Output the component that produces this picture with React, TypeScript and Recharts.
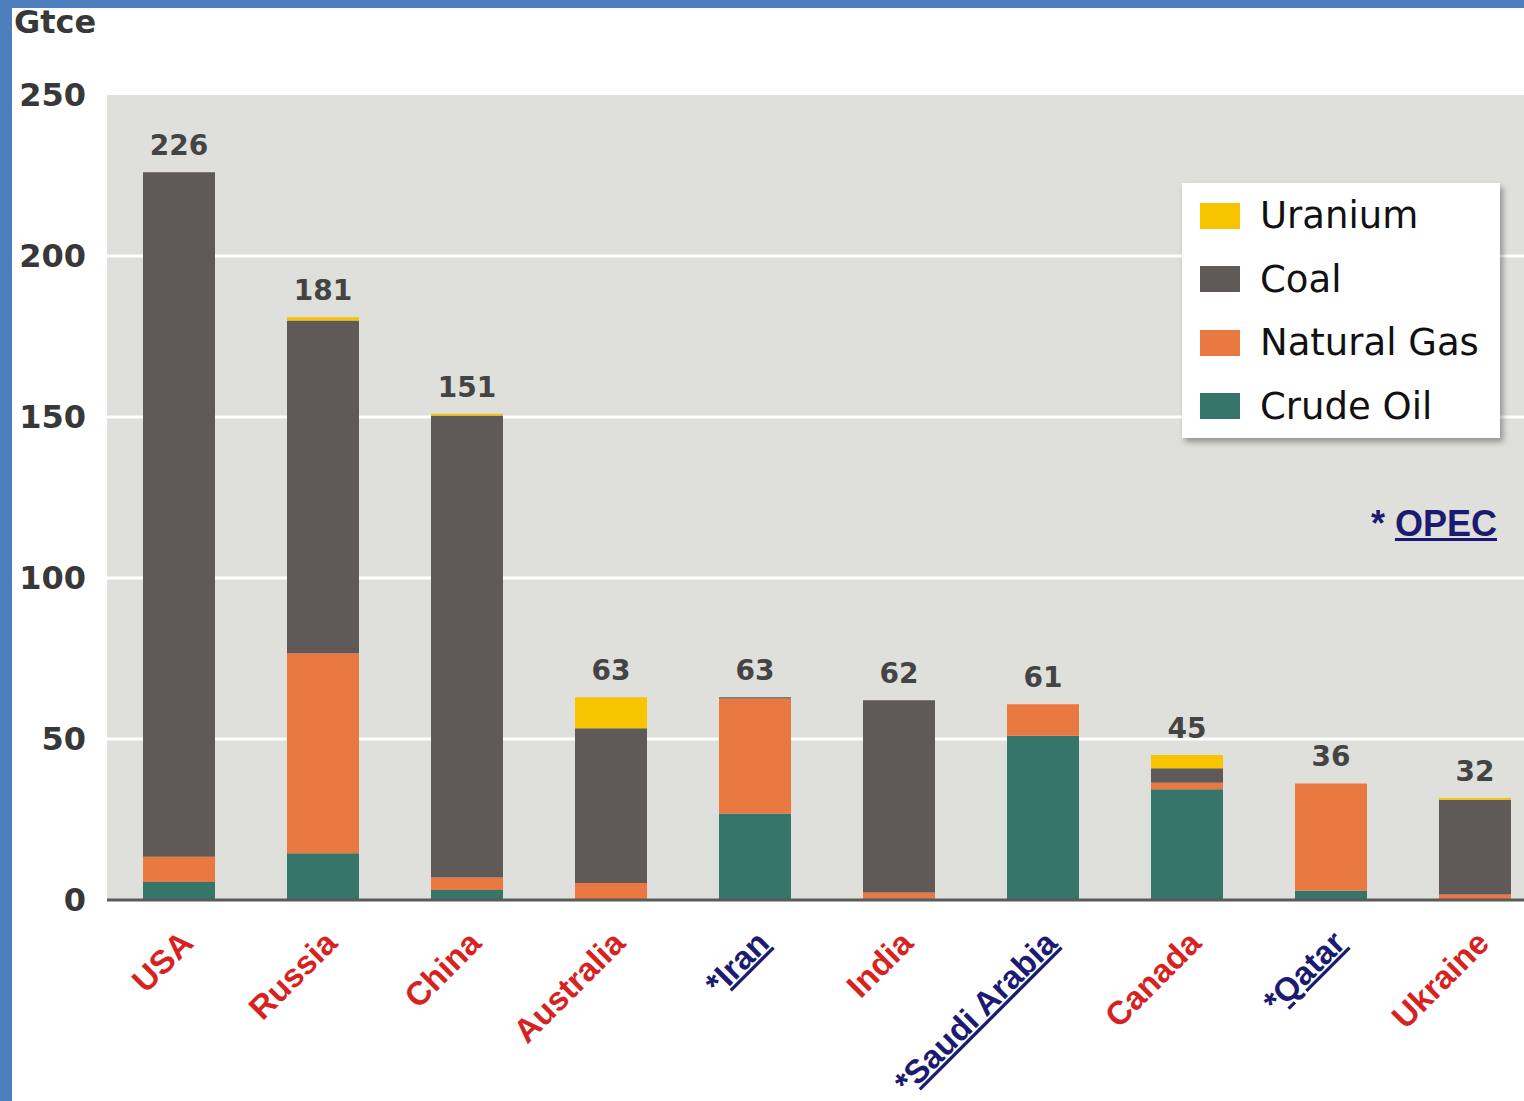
import React from "react";
import { BarChart, Bar, XAxis, YAxis, CartesianGrid, Legend, LabelList } from "recharts";

const countries = ["USA", "Russia", "China", "Australia", "*Iran", "India", "*Saudi Arabia", "Canada", "*Qatar", "Ukraine"];
const opec = [false, false, false, false, true, false, true, false, true, false];
const crudeOil = [5.6, 14.5, 3.1, 0.3, 26.9, 0.5, 51.0, 34.4, 2.9, 0.3];
const naturalGas = [7.8, 62.1, 3.9, 5.0, 35.7, 1.8, 9.8, 2.0, 33.3, 1.4];
const coal = [212.6, 103.4, 143.5, 48.0, 0.4, 59.7, 0, 4.5, 0, 29.4];
const uranium = [0, 1.0, 0.5, 9.7, 0, 0, 0, 4.1, 0, 0.6];
const totals = [226, 181, 151, 63, 63, 62, 61, 45, 36, 32];
const yTicks = [0, 50, 100, 150, 200, 250];

const series = [
  { key: "crudeOil", name: "Crude Oil", color: "#35756a", values: crudeOil },
  { key: "naturalGas", name: "Natural Gas", color: "#e97941", values: naturalGas },
  { key: "coal", name: "Coal", color: "#5f5a57", values: coal },
  { key: "uranium", name: "Uranium", color: "#f6c500", values: uranium },
];

// which series is the topmost non-zero segment of each stack
const topSeries = countries.map((_, i) => {
  let top = series[0].key;
  series.forEach((s) => {
    if (s.values[i] > 0) top = s.key;
  });
  return top;
});

const data = countries.map((c, i) => {
  const row: any = {
    country: c,
    crudeOil: crudeOil[i],
    naturalGas: naturalGas[i],
    coal: coal[i],
    uranium: uranium[i],
  };
  series.forEach((s) => {
    row[`label_${s.key}`] = topSeries[i] === s.key ? totals[i] : null;
  });
  return row;
});

const RED = "#d6231f";
const NAVY = "#1b1b72";

const XTick = (props: any) => {
  const { x, y, payload, index } = props;
  const label: string = payload.value;
  const isOpec = opec[index];
  const ax = x + 16;
  const ay = y + 37;
  return (
    <text
      x={ax}
      y={ay}
      textAnchor="end"
      transform={`rotate(-45, ${ax}, ${ay})`}
      fill={isOpec ? NAVY : RED}
      fontFamily="'Liberation Sans', Arial, sans-serif"
      fontWeight="bold"
      fontSize={33}
    >
      {isOpec ? (
        <>
          <tspan>*</tspan>
          <tspan textDecoration="underline">{label.slice(1)}</tspan>
        </>
      ) : (
        label
      )}
    </text>
  );
};

const TotalLabel = (props: any) => {
  const { x, y, width, value } = props;
  if (value === null || value === undefined) return null;
  return (
    <text
      x={x + width / 2}
      y={y - 17}
      textAnchor="middle"
      fill="#444"
      fontFamily="'DejaVu Sans', Verdana, sans-serif"
      fontWeight="bold"
      fontSize={28}
    >
      {value}
    </text>
  );
};

const LegendContent = () => {
  const items = [...series].reverse();
  return (
    <div
      style={{
        width: 318,
        height: 255,
        background: "#fff",
        boxShadow: "3px 4px 6px rgba(0,0,0,0.35)",
        boxSizing: "border-box",
        paddingTop: 1,
      }}
    >
      {items.map((s) => (
        <div key={s.key} style={{ height: 63.5, display: "flex", alignItems: "center" }}>
          <div style={{ width: 40, height: 26, background: s.color, marginLeft: 18, marginRight: 20 }} />
          <span
            style={{
              fontFamily: "'DejaVu Sans', Verdana, sans-serif",
              fontSize: 37,
              color: "#111",
              lineHeight: 1,
            }}
          >
            {s.name}
          </span>
        </div>
      ))}
    </div>
  );
};

export default function App() {
  return (
    <div style={{ position: "relative", width: 1524, height: 1101, overflow: "hidden", background: "#fff" }}>
      <style>{`body{margin:0;overflow:hidden}`}</style>
      <BarChart
        width={1560}
        height={1101}
        data={data}
        margin={{ top: 95, right: 13, bottom: 1, left: 0 }}
        barCategoryGap="25%"
      >
        <CartesianGrid
          vertical={false}
          horizontalValues={[50, 100, 150, 200]}
          fill="#dfdfdc"
          fillOpacity={1}
          stroke="#ffffff"
          strokeWidth={3}
        />
        <XAxis
          dataKey="country"
          interval={0}
          height={200}
          tickLine={false}
          axisLine={{ stroke: "#5a5a5a", strokeWidth: 3 }}
          tick={<XTick />}
        />
        <YAxis
          domain={[0, 250]}
          ticks={yTicks}
          width={107}
          axisLine={false}
          tickLine={false}
          tickSize={0}
          tickMargin={21}
          tick={{
            fill: "#383838",
            fontSize: 32,
            fontWeight: "bold",
            fontFamily: "'DejaVu Sans', Verdana, sans-serif",
          }}
        />
        <Legend
          layout="vertical"
          align="center"
          verticalAlign="middle"
          content={<LegendContent />}
          wrapperStyle={{ left: 1182, top: 183, width: 318, height: 255 }}
        />
        {series.map((s) => (
          <Bar key={s.key} dataKey={s.key} name={s.name} stackId="a" fill={s.color} isAnimationActive={false}>
            <LabelList dataKey={`label_${s.key}`} content={<TotalLabel />} />
          </Bar>
        ))}
      </BarChart>
      <div
        style={{
          position: "absolute",
          left: 14,
          top: 3,
          fontFamily: "'DejaVu Sans', Verdana, sans-serif",
          fontWeight: "bold",
          fontSize: 32,
          color: "#383838",
          lineHeight: 1.2,
        }}
      >
        Gtce
      </div>
      <div
        style={{
          position: "absolute",
          right: 27,
          top: 502,
          fontFamily: "'Liberation Sans', Arial, sans-serif",
          fontWeight: "bold",
          fontSize: 36,
          color: NAVY,
          lineHeight: 1.2,
          whiteSpace: "nowrap",
        }}
      >
        * <span style={{ textDecoration: "underline" }}>OPEC</span>
      </div>
      <div style={{ position: "absolute", left: 0, top: 0, width: 12, height: 1101, background: "#4d7fbe" }} />
      <div style={{ position: "absolute", left: 0, top: 0, width: 1524, height: 8, background: "#4d7fbe" }} />
    </div>
  );
}
